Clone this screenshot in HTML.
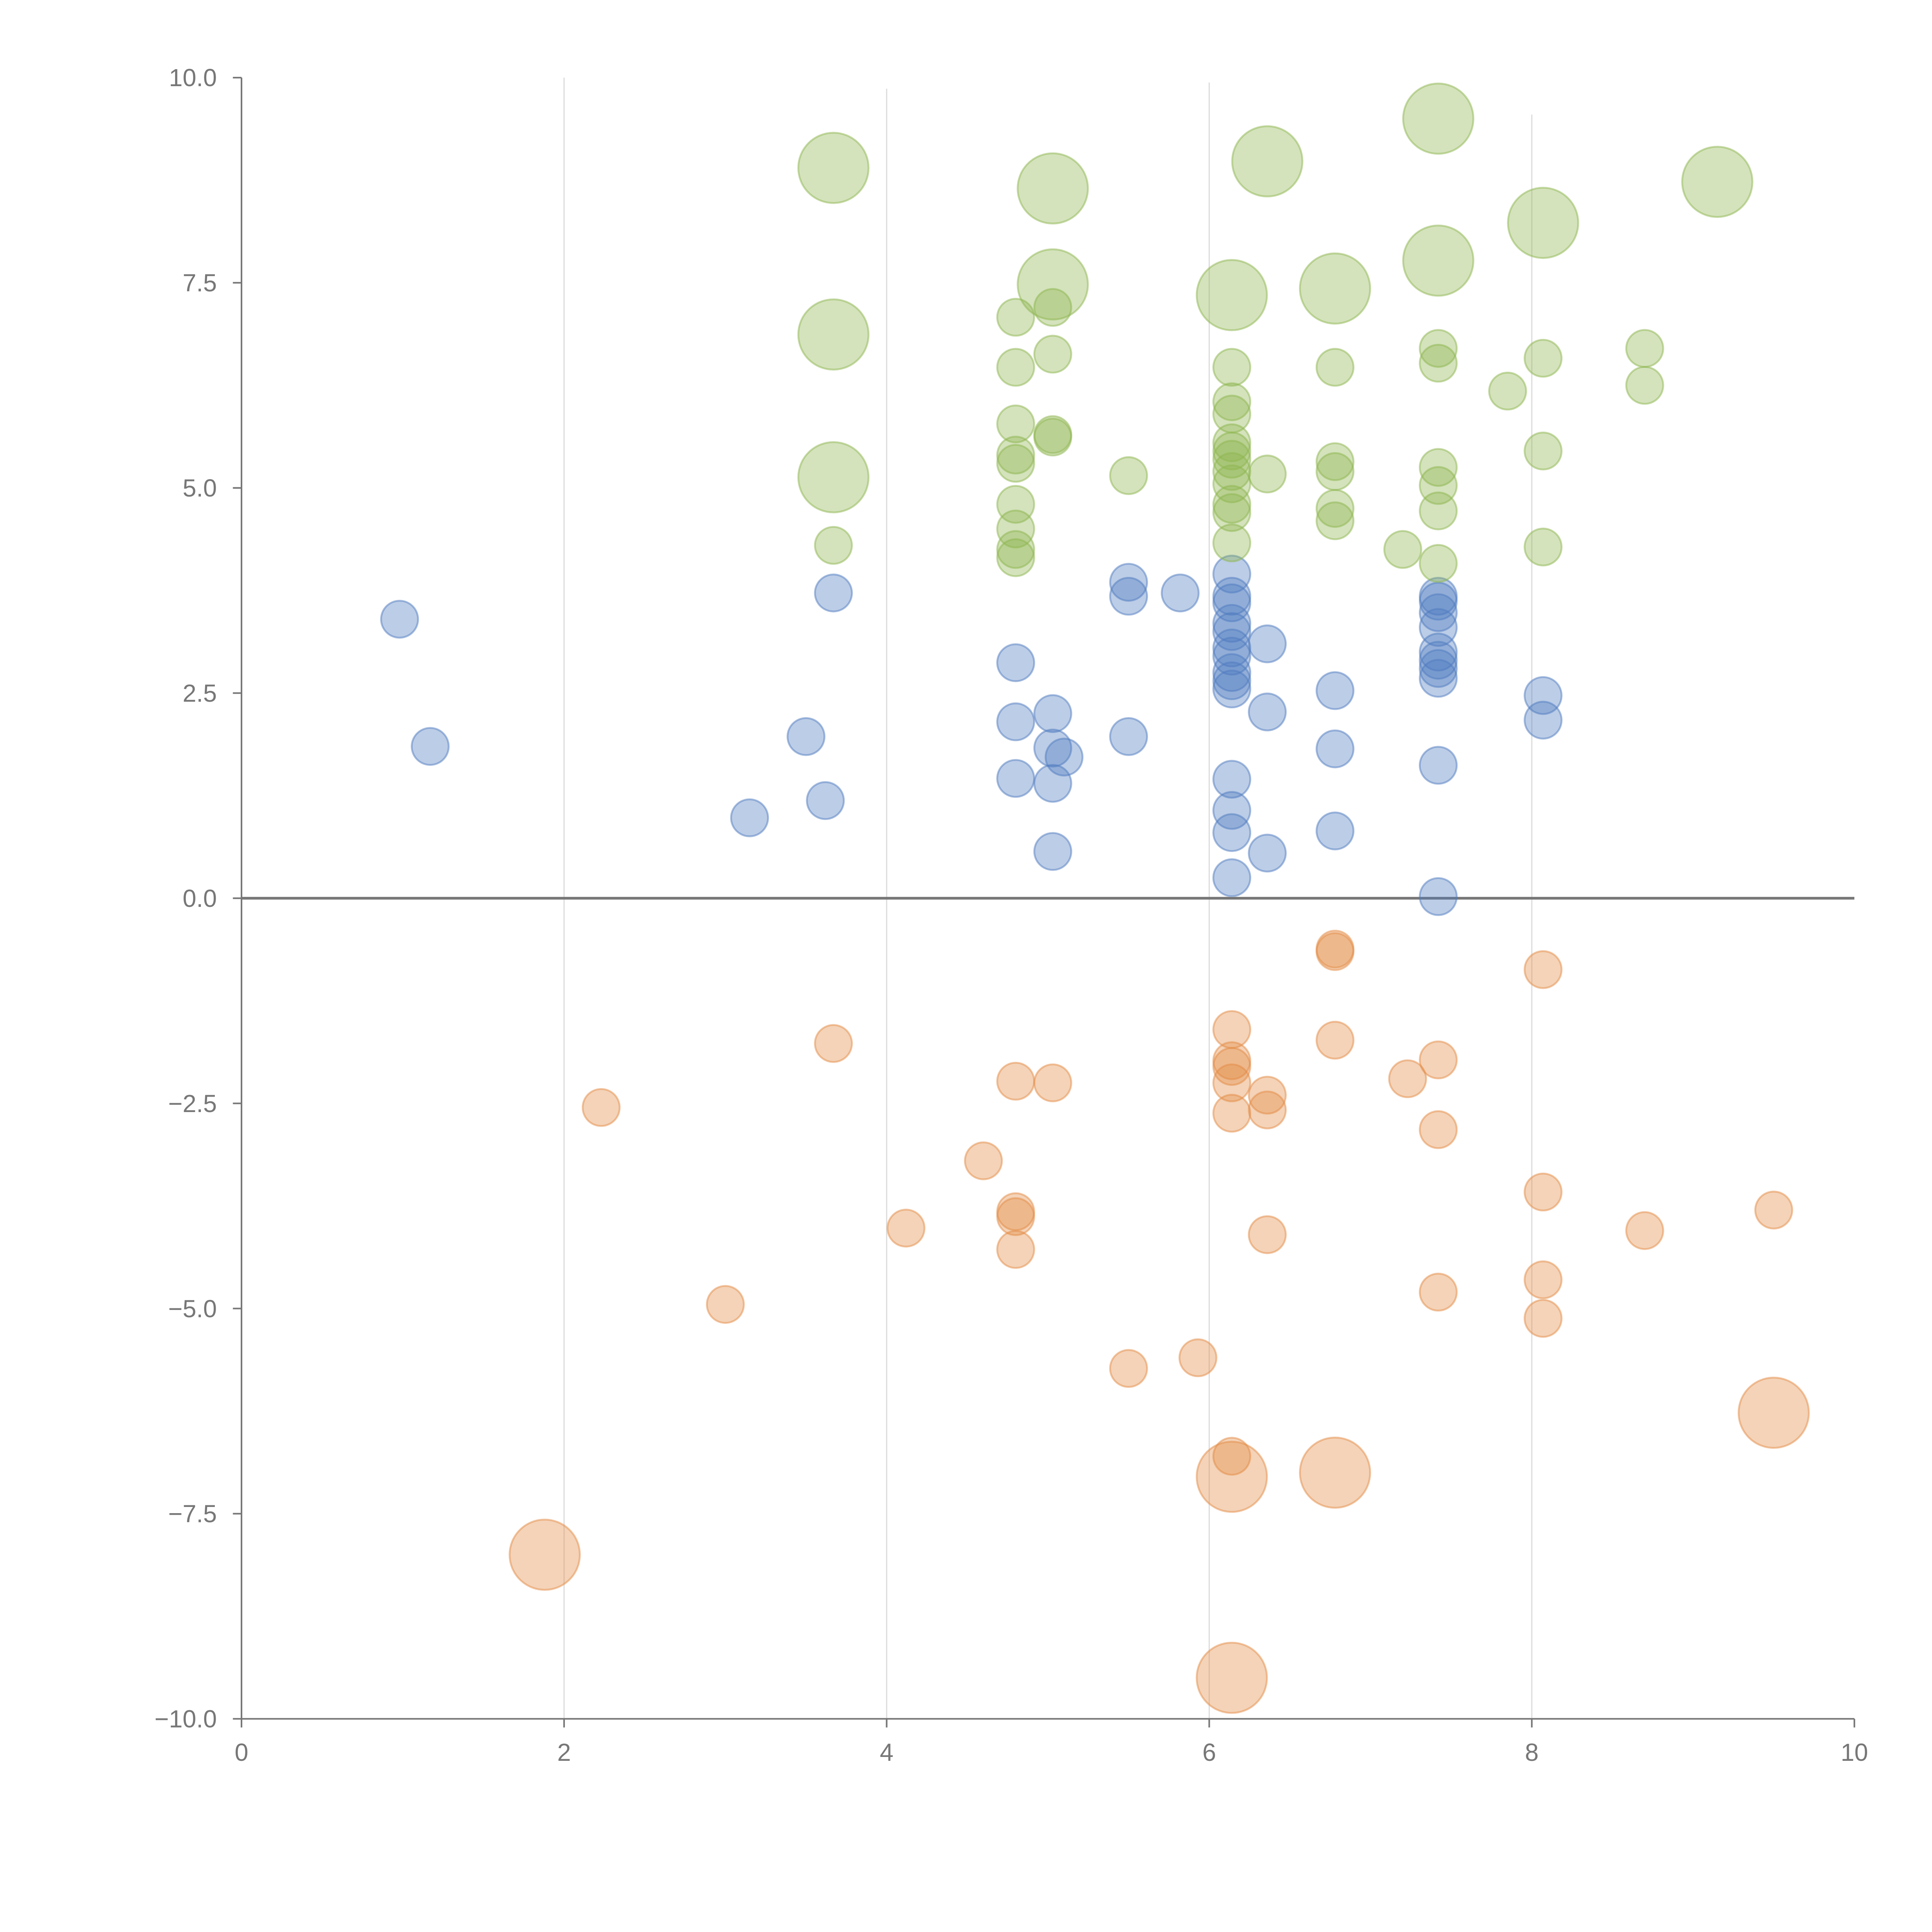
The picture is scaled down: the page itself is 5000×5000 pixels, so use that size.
<!DOCTYPE html>
<html><head><meta charset="utf-8">
<style>html,body{margin:0;padding:0;background:#fff}svg{display:block}</style>
</head><body>
<svg id="chart" width="5000" height="5000" viewBox="0 0 1568 1568" xmlns="http://www.w3.org/2000/svg" font-family="Liberation Sans, sans-serif">
<g id="grid"></g>
<g id="axes"></g>
<g id="marks"></g>
</svg>
<script>
const xTicks = [0, 2, 4, 6, 8, 10];
const yTicks = [-10, -7.5, -5, -2.5, 0, 2.5, 5, 7.5, 10];
const yTickLabels = ["\u221210.0", "\u22127.5", "\u22125.0", "\u22122.5", "0.0", "2.5", "5.0", "7.5", "10.0"];
const blueX = [0.98,1.17,3.15,3.5,3.62,3.67,4.8,4.8,4.8,5.03,5.03,5.1,5.03,5.03,5.5,5.5,5.5,5.82,6.14,6.14,6.14,6.14,6.14,6.14,6.14,6.14,6.14,6.14,6.14,6.14,6.14,6.14,6.36,6.36,6.36,6.78,6.78,6.78,7.42,7.42,7.42,7.42,7.42,7.42,7.42,7.42,7.42,7.42,8.07,8.07];
const blueY = [3.4,1.85,0.98,1.97,1.19,3.72,2.87,2.15,1.46,2.25,1.83,1.72,1.4,0.57,3.85,3.68,1.97,3.72,3.95,3.68,3.6,3.35,3.25,3.05,2.95,2.75,2.65,2.55,1.45,1.07,0.8,0.25,3.1,2.27,0.55,2.53,1.82,0.82,3.68,3.62,3.48,3.3,3.0,2.9,2.8,2.68,1.62,0.02,2.47,2.17];
const greenX = [3.67,4.8,4.8,4.8,4.8,4.8,4.8,4.8,4.8,4.8,5.03,5.03,5.03,5.03,5.5,6.14,6.14,6.14,6.14,6.14,6.14,6.14,6.14,6.14,6.14,6.14,6.36,6.78,6.78,6.78,6.78,6.78,7.2,7.42,7.42,7.42,7.42,7.42,7.42,7.85,8.07,8.07,8.07,8.7,8.7];
const greenY = [4.3,7.08,6.47,5.78,5.4,5.3,4.8,4.5,4.25,4.15,7.2,6.63,5.65,5.62,5.15,6.47,6.05,5.9,5.55,5.45,5.35,5.2,5.05,4.8,4.7,4.33,5.17,6.47,5.32,5.2,4.75,4.6,4.25,6.7,6.52,5.25,5.03,4.72,4.08,6.18,6.58,5.45,4.28,6.7,6.25];
const greenBigX = [3.67,3.67,3.67,5.03,5.03,6.14,6.36,6.78,7.42,7.42,8.07,9.15];
const greenBigY = [8.9,6.87,5.13,8.65,7.48,7.35,8.98,7.43,9.5,7.77,8.23,8.73];
const orangeX = [2.23,3.0,3.67,4.12,4.6,4.8,4.8,4.8,4.8,5.03,5.5,5.93,6.14,6.14,6.14,6.14,6.14,6.14,6.36,6.36,6.36,6.78,6.78,6.78,7.23,7.42,7.42,7.42,8.07,8.07,8.07,8.07,8.7,9.5];
const orangeY = [-2.55,-4.95,-1.77,-4.02,-3.2,-2.23,-3.82,-3.88,-4.28,-2.25,-5.73,-5.6,-1.6,-1.98,-2.05,-2.25,-2.62,-6.8,-2.4,-2.58,-4.1,-0.62,-0.65,-1.73,-2.2,-1.97,-2.82,-4.8,-0.87,-3.58,-4.65,-5.12,-4.05,-3.8];
const orangeBigX = [1.88,6.14,6.78,6.14,9.5];
const orangeBigY = [-8.0,-7.05,-7.0,-9.5,-6.27];

const X0=196, X1=1505, Y0=1395, Y1=63;
const sx = v => X0 + (v - 0) / 10 * (X1 - X0);
const sy = v => Y0 - (v + 10) / 20 * (Y0 - Y1);
const NS = "http://www.w3.org/2000/svg";
function mk(tag, attrs, parent) {
  const e = document.createElementNS(NS, tag);
  for (const k in attrs) e.setAttribute(k, attrs[k]);
  parent.appendChild(e); return e;
}
const grid = document.getElementById('grid');
const axes = document.getElementById('axes');
const marks = document.getElementById('marks');
const gridTops = {2: 63, 4: 72, 6: 67, 8: 93};
[2,4,6,8].forEach(t => {
  const l = mk('line', {x1: sx(t), x2: sx(t), y1: gridTops[t], y2: Y0, stroke: '#dddddd', 'stroke-width': 1}, grid);
  
  
});
let a = mk('line', {x1: X0, x2: X0, y1: Y1, y2: Y0, stroke: '#777', 'stroke-width': 1.3}, axes);


a = mk('line', {x1: X0, x2: X1, y1: Y0, y2: Y0, stroke: '#777', 'stroke-width': 1.3}, axes);


xTicks.forEach(t => {
  const tk = mk('line', {x1: sx(t), x2: sx(t), y1: Y0, y2: Y0 + 7, stroke: '#777', 'stroke-width': 1.3}, axes);
  
  
  const tx = mk('text', {x: sx(t), y: Y0 + 34, 'text-anchor': 'middle', 'font-size': 20, fill: '#777'}, axes);
  tx.textContent = String(t);
  
  
});
yTicks.forEach((t, i) => {
  const tk = mk('line', {x1: X0 - 7, x2: X0, y1: sy(t), y2: sy(t), stroke: '#777', 'stroke-width': 1.3}, axes);
  
  
  const tx = mk('text', {x: X0 - 20, y: sy(t) + 7, 'text-anchor': 'end', 'font-size': 20, fill: '#777'}, axes);
  tx.textContent = yTickLabels[i];
  
  
});
const z = mk('line', {x1: X0, x2: X1, y1: sy(0), y2: sy(0), stroke: '#777', 'stroke-width': 2.2}, axes);


function series(xs, ys, r, color, name) {
  xs.forEach((x, i) => {
    const c = mk('circle', {cx: sx(x), cy: sy(ys[i]), r: r, fill: color, 'fill-opacity': 0.38, stroke: color, 'stroke-opacity': 0.5, 'stroke-width': 1.5}, marks);
    
    
  });
}
series(blueX, blueY, 15, '#4f7bc0', 'blue-bubble');
series(greenX, greenY, 15, '#8db54f', 'green-bubble');
series(greenBigX, greenBigY, 28.5, '#8db54f', 'green-large-bubble');
series(orangeX, orangeY, 15, '#e38c45', 'orange-bubble');
series(orangeBigX, orangeBigY, 28.5, '#e38c45', 'orange-large-bubble');
</script>
</body></html>
